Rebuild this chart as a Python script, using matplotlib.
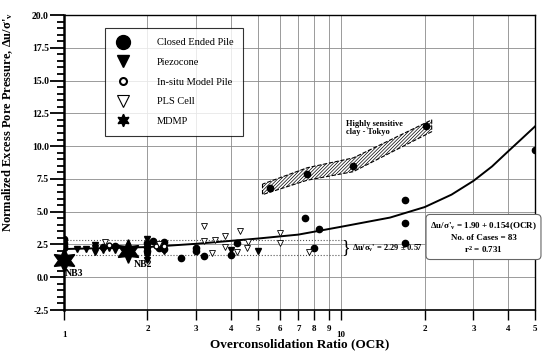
import matplotlib
matplotlib.use('Agg')
import matplotlib.pyplot as plt
from matplotlib.ticker import FixedLocator, FixedFormatter, MultipleLocator
from matplotlib.lines import Line2D

plt.rcParams['font.family'] = ['Liberation Serif', 'DejaVu Serif']
plt.rcParams['font.weight'] = 'bold'
plt.rcParams['mathtext.default'] = 'regular'
plt.rcParams['hatch.linewidth'] = 0.5

# Closed ended pile (filled circles)
pile_ocr = [1, 1, 1, 1, 1.38, 1.53, 2, 2, 2, 2.09, 2.2, 2.3, 2.3, 2.64,
            3.0, 3.0, 3.21, 4.0, 4.2, 7.41, 8.33, 8.0, 17, 17, 17, 50]
pile_du = [2.95, 2.6, 2.4, 2.2, 2.3, 2.35, 2.6, 2.3, 2.0, 2.75, 2.2, 2.7, 2.15, 1.5,
           2.2, 2.0, 1.62, 1.72, 2.62, 4.5, 3.7, 2.25, 5.9, 4.1, 2.6, 9.7]

# Tokyo sensitive clay points (closed ended pile)
tokyo_ocr = [5.54, 7.54, 11.05, 20.3]
tokyo_du = [6.8, 7.9, 8.5, 11.5]

# Piezocone (filled down triangles)
piezo_ocr = [1.11, 1.2, 1.29, 1.29, 1.29, 1.38, 1.45, 1.53, 2, 2, 2, 2.3, 4.0, 5.0]
piezo_du = [2.15, 2.15, 2.45, 2.2, 1.95, 2.1, 2.2, 2.05, 2.95, 1.3, 1.6, 2.0, 2.1, 2.0]

# In-situ model pile (small open circles)
insitu_ocr = [1.45, 2.15, 2.3]
insitu_du = [2.45, 2.35, 2.4]

# PLS cell (open down triangles)
pls_ocr = [1.41, 2.2, 3.21, 3.21, 3.41, 3.51, 3.81, 3.81, 4.2, 4.32, 4.58, 4.6, 6.0, 6.0, 7.66]
pls_du = [2.7, 2.5, 3.9, 2.77, 1.85, 2.85, 3.17, 2.31, 1.95, 3.53, 2.23, 2.71, 3.38, 2.61, 1.93]

# MDMP (stars)
mdmp_ocr = [1.0, 1.70]
mdmp_du = [1.32, 2.0]

# regression curve
curve_ocr = [1, 2, 3, 5, 7, 10, 15, 20, 25, 30, 35, 40, 45, 50]
curve_du = [2.15, 2.3, 2.55, 2.95, 3.25, 3.85, 4.55, 5.35, 6.3, 7.35, 8.45, 9.6, 10.6, 11.5]

# hatched band, Tokyo clay
band_ocr = [5.2, 7.54, 11.05, 21.2]
band_hi = [7.1, 8.35, 9.1, 12.0]
band_lo = [6.3, 7.4, 8.05, 11.1]

du_mean = 2.29
du_std = 0.57

x_ticks = [1, 2, 3, 4, 5, 6, 7, 8, 9, 10, 20, 30, 40, 50]
x_labels = ['1', '2', '3', '4', '5', '6', '7', '8', '9', '10', '2', '3', '4', '5']


def main():
    fig = plt.figure(figsize=(5.5, 3.53), dpi=100)
    ax = fig.add_axes([0.1164, 0.1218, 0.8563, 0.8357])
    ax.set_xscale('log')
    ax.set_xlim(1, 50)
    ax.set_ylim(-2.5, 20)

    # grid
    for v in x_ticks:
        ax.axvline(v, color='#8a8a8a', lw=0.6, zorder=0)
    for v in [0, 2.5, 5, 7.5, 10, 12.5, 15, 17.5]:
        ax.axhline(v, color='#8a8a8a', lw=0.6, zorder=0)

    # mean +- std band lines
    ax.plot([1, 10.2], [du_mean + du_std] * 2, ls=':', color='#555555', lw=0.8, zorder=1)
    ax.plot([1, 10.2], [du_mean - du_std] * 2, ls=':', color='#555555', lw=0.8, zorder=1)
    ax.text(10.05, du_mean, '}', fontsize=13, fontweight='normal', va='center', ha='left')
    ax.text(10.9, du_mean - 0.1, r"$\Delta u/\sigma_v$' = 2.29 $\pm$ 0.57", fontsize=6,
            va='center', ha='left')

    # Tokyo band
    ax.fill_between(band_ocr, band_lo, band_hi, facecolor='white', edgecolor='black',
                    hatch='//////////', linestyle='--', linewidth=0.8, zorder=2)
    ax.text(10.4, 12.0, 'Highly sensitive\nclay - Tokyo', fontsize=6, va='top', ha='left',
            linespacing=1.0)

    # regression curve
    ax.plot(curve_ocr, curve_du, color='black', lw=1.4, zorder=3)

    ms = 4.5
    ax.plot(pile_ocr, pile_du, 'o', color='black', ms=ms, zorder=4)
    ax.plot(tokyo_ocr, tokyo_du, 'o', color='black', ms=ms, zorder=4)
    ax.plot(piezo_ocr, piezo_du, 'v', color='black', ms=ms, zorder=4)
    ax.plot(insitu_ocr, insitu_du, 'o', mfc='white', mec='black', mew=1.0, ms=3.5, zorder=4)
    ax.plot(pls_ocr, pls_du, 'v', mfc='white', mec='black', mew=0.6, ms=ms, zorder=4)
    ax.plot(mdmp_ocr, mdmp_du, marker=(6, 1, 0), ls='none', color='black', ms=17,
            zorder=5, clip_on=False)
    ax.text(1.01, 0.25, 'NB3', fontsize=7, va='center', ha='left')
    ax.text(1.78, 0.95, 'NB2', fontsize=7, va='center', ha='left')

    # regression annotation
    ax.text(32.6, 3.0, "$\\Delta$u/$\\sigma$'$_v$ = 1.90 + 0.154(OCR)\nNo. of Cases = 83\nr$^2$ = 0.731",
            fontsize=6.5, ha='center', va='center', linespacing=1.3, clip_on=False, zorder=6,
            bbox=dict(boxstyle='round,pad=0.45', facecolor='white', edgecolor='#666666', lw=0.8))

    # legend
    handles = [
        Line2D([], [], marker='o', ls='none', color='black', ms=10),
        Line2D([], [], marker='v', ls='none', color='black', ms=9),
        Line2D([], [], marker='o', ls='none', mfc='white', mec='black', mew=1.5, ms=5),
        Line2D([], [], marker='v', ls='none', mfc='white', mec='black', mew=0.8, ms=9),
        Line2D([], [], marker=(6, 1, 0), ls='none', color='black', ms=9),
    ]
    labels = ['Closed Ended Pile', 'Piezocone', 'In-situ Model Pile', 'PLS Cell', 'MDMP']
    leg = ax.legend(handles, labels, loc='upper left', bbox_to_anchor=(0.087, 0.956),
                    fontsize=7.5, frameon=True, fancybox=False, edgecolor='black',
                    borderpad=0.95, labelspacing=1.0, handletextpad=2.4, handlelength=1.6,
                    borderaxespad=0)
    leg.get_frame().set_linewidth(0.8)
    for t in leg.get_texts():
        t.set_fontweight('normal')

    # axes styling
    for s in ['top', 'right']:
        ax.spines[s].set_linewidth(1.0)
    ax.spines['left'].set_linewidth(1.8)
    ax.spines['bottom'].set_linewidth(1.2)

    ax.yaxis.set_major_locator(MultipleLocator(2.5))
    ax.yaxis.set_minor_locator(MultipleLocator(0.5))
    ax.yaxis.set_major_formatter(plt.FuncFormatter(lambda v, p: '%.1f' % v))
    ax.tick_params(axis='y', which='major', direction='out', length=10, width=1.3,
                   labelsize=7, pad=1)
    ax.tick_params(axis='y', which='minor', direction='out', length=5, width=1.3)

    ax.xaxis.set_major_locator(FixedLocator(x_ticks))
    ax.xaxis.set_major_formatter(FixedFormatter(x_labels))
    ax.xaxis.set_minor_locator(FixedLocator([]))
    ax.tick_params(axis='x', which='major', direction='out', length=7, width=1.0,
                   labelsize=6.5, pad=4)
    for lbl, v in zip(ax.get_xticklabels(), x_ticks):
        if v in (1, 10):
            lbl.set_y(-0.018)

    ax.set_xlabel('Overconsolidation Ratio (OCR)', fontsize=9.5, fontweight='bold', labelpad=0)
    ax.set_ylabel("Normalized Excess Pore Pressure, Δu/σ'$_v$", fontsize=9, fontweight='bold')
    ax.yaxis.set_label_coords(-0.105, 0.637)

    fig.savefig('out.png', dpi=100)


if __name__ == '__main__':
    main()
